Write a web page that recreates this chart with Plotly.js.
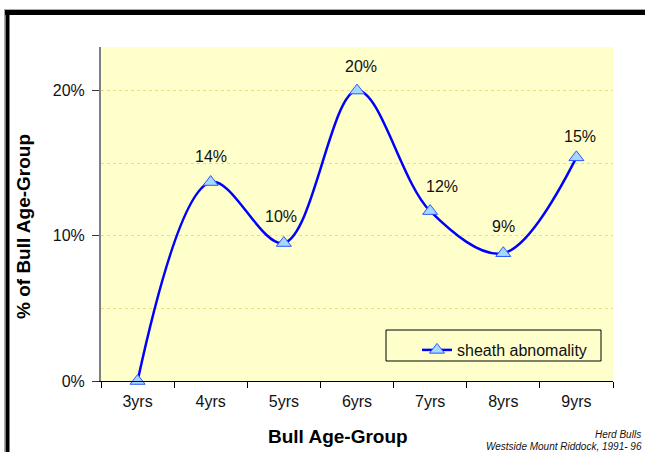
<!DOCTYPE html>
<html>
<head>
<meta charset="utf-8">
<script src="https://cdn.plot.ly/plotly-3.0.1.min.js"></script>
<style>
html,body{margin:0;padding:0;background:#fff;}
#chart{width:645px;height:452px;}
</style>
</head>
<body>
<div id="chart"></div>
<script>
// Data
const categories = ["3yrs", "4yrs", "5yrs", "6yrs", "7yrs", "8yrs", "9yrs"];
const sheathValues = [0, 13.7, 9.5, 20.0, 11.7, 8.8, 15.4];
const pointLabels = ["", "14%", "10%", "20%", "12%", "9%", "15%"];
const seriesName = "sheath abnomality";
const yTickVals = [0, 10, 20];
const yTickText = ["0%", "10%", "20%"];
const xTitle = "Bull Age-Group";
const yTitle = "% of Bull Age-Group";

const FONT = "Arial, 'Liberation Sans', sans-serif";
const labelXShift = [0, 0, -3, 4, 12, 0, 4];
const labelYShift = [0, 26, 27, 24, 25, 27, 21];

const trace = {
  x: categories,
  y: sheathValues,
  type: "scatter",
  mode: "lines+markers",
  name: seriesName,
  line: {color: "#0000ff", width: 2.5, shape: "spline", smoothing: 1},
  marker: {symbol: "triangle-up", size: 13, color: "#a6d8ff", line: {color: "#2a55ff", width: 1}},
  cliponaxis: false
};

const labelAnns = categories.map((c, i) => ({
  x: c, y: sheathValues[i], xref: "x", yref: "y",
  text: pointLabels[i], showarrow: false,
  yshift: labelYShift[i], xshift: labelXShift[i],
  font: {family: FONT, size: 16, color: "#111"}
})).filter(a => a.text !== "");

// paper coordinate helpers (plot area 101..613 x 47..381)
const px = v => (v - 101) / 512;
const py = v => (381 - v) / 334;

const layout = {
  width: 645, height: 452,
  margin: {l: 101, r: 32, t: 47, b: 71},
  paper_bgcolor: "#ffffff",
  plot_bgcolor: "#ffffcc",
  showlegend: true,
  font: {family: FONT, size: 16, color: "#111"},
  xaxis: {
    type: "category",
    range: [-0.5, 6.5],
    tickson: "boundaries",
    ticks: "outside", ticklen: 6, tickcolor: "#000", tickwidth: 1,
    ticklabelstandoff: 6,
    showline: true, linecolor: "#000", linewidth: 1,
    showgrid: false, zeroline: false,
    tickfont: {family: FONT, size: 16, color: "#111"},
    fixedrange: true
  },
  yaxis: {
    range: [0, 23],
    tickmode: "array", tickvals: yTickVals, ticktext: yTickText,
    ticks: "outside", ticklen: 7, tickcolor: "#333", tickwidth: 1,
    ticklabelstandoff: 4,
    showline: true, linecolor: "#808080", linewidth: 2,
    showgrid: true, gridcolor: "#eedc7a", griddash: "dot", gridwidth: 1,
    minor: {dtick: 5, tick0: 0, showgrid: true, gridcolor: "#eedc7a", griddash: "dot", gridwidth: 1, ticks: ""},
    zeroline: false,
    tickfont: {family: FONT, size: 16, color: "#111"},
    fixedrange: true
  },
  legend: {
    x: px(417), y: py(333), xanchor: "left", yanchor: "top",
    bgcolor: "rgba(0,0,0,0)", borderwidth: 0,
    font: {family: FONT, size: 16, color: "#111"}
  },
  shapes: [
    // legend box
    {type: "rect", xref: "paper", yref: "paper", x0: px(386), x1: px(601), y0: py(330), y1: py(361),
     line: {color: "#000", width: 1}, fillcolor: "#ffffcc", layer: "below"},
    // outer frame: grey hairline, black thick top and left
    {type: "line", xref: "paper", yref: "paper", x0: px(4), x1: px(660), y0: py(9.5), y1: py(9.5),
     line: {color: "#aaaaaa", width: 1}},
    {type: "line", xref: "paper", yref: "paper", x0: px(4.5), x1: px(4.5), y0: py(9.5), y1: py(470),
     line: {color: "#aaaaaa", width: 1}},
    {type: "line", xref: "paper", yref: "paper", x0: px(5), x1: px(660), y0: py(12.5), y1: py(12.5),
     line: {color: "#000", width: 5}},
    {type: "line", xref: "paper", yref: "paper", x0: px(7.5), x1: px(7.5), y0: py(10), y1: py(470),
     line: {color: "#000", width: 4}}
  ],
  annotations: labelAnns.concat([
    {xref: "paper", yref: "paper", x: px(338), y: py(436), xanchor: "center", yanchor: "middle",
     text: "<b>" + xTitle + "</b>", showarrow: false, font: {family: FONT, size: 19, color: "#000"}},
    {xref: "paper", yref: "paper", x: px(23), y: py(227), xanchor: "center", yanchor: "middle",
     textangle: -90, text: "<b>" + yTitle + "</b>", showarrow: false, font: {family: FONT, size: 19, color: "#000"}},
    {xref: "paper", yref: "paper", x: px(643), y: py(434), xanchor: "right", yanchor: "middle",
     text: "<i>Herd Bulls</i>", showarrow: false, font: {family: FONT, size: 10, color: "#111"}},
    {xref: "paper", yref: "paper", x: px(644), y: py(446.5), xanchor: "right", yanchor: "middle",
     text: "<i>Westside Mount Riddock, 1991- 96</i>", showarrow: false, font: {family: FONT, size: 10, color: "#111"}}
  ])
};

Plotly.newPlot("chart", [trace], layout, {displayModeBar: false, staticPlot: true});
</script>
</body>
</html>
